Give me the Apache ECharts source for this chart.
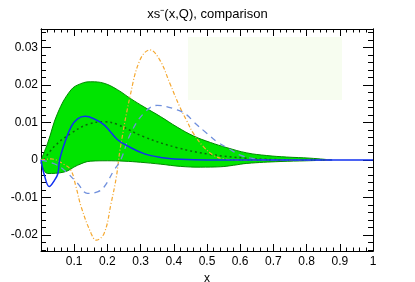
<!DOCTYPE html>
<html><head><meta charset="utf-8">
<script src="https://cdn.jsdelivr.net/npm/echarts@6/dist/echarts.min.js"></script>
<style>html,body{margin:0;padding:0;background:#fff}#c{width:415px;height:282px}</style>
</head><body><div id="c"></div>
<script>
const titleText = 'xs\u207B(x,Q), comparison';
const xAxisName = 'x';
const yMajorTicks = [-0.02, -0.01, 0, 0.01, 0.02, 0.03];
const yMinorTicks = [-0.024,-0.022,-0.018,-0.016,-0.014,-0.012,-0.008,-0.006,-0.004,-0.002,
  0.002,0.004,0.006,0.008,0.012,0.014,0.016,0.018,0.022,0.024,0.026,0.028,0.032,0.034];

const upperX = [0, 0.02, 0.05, 0.09, 0.12, 0.15, 0.19, 0.23, 0.27, 0.31, 0.36, 0.41, 0.46, 0.51, 0.56, 0.62, 0.68, 0.74, 0.81, 0.876];
const upperY = [0, 0.0045, 0.0125, 0.0187, 0.0204, 0.0209, 0.0205, 0.0188, 0.0164, 0.0142, 0.0116, 0.0088, 0.0064, 0.0047, 0.0033, 0.0019, 0.0012, 0.0008, 0.0005, 0.0];
const lowerX = [0, 0.02, 0.07, 0.11, 0.15, 0.2, 0.25, 0.3, 0.36, 0.42, 0.48, 0.54, 0.58, 0.62, 0.72, 0.8, 0.876];
const lowerY = [-0.0005, -0.0036, -0.0032, -0.0014, -0.0003, -0.0002, -0.0003, -0.0006, -0.0011, -0.0017, -0.0019, -0.0018, -0.0014, -0.0009, -0.0004, -0.0002, 0];
const centralX = [0, 0.04, 0.09, 0.14, 0.19, 0.23, 0.31, 0.41, 0.51, 0.62, 0.72, 0.876];
const centralY = [-0.001, 0.0036, 0.0071, 0.0095, 0.0102, 0.0095, 0.0062, 0.0033, 0.0015, 0.0005, 0.0001, 0];
const blueX = [0, 0.01, 0.025, 0.04, 0.051, 0.056, 0.071, 0.091, 0.11, 0.133, 0.16, 0.19, 0.23, 0.26, 0.31, 0.36, 0.42, 0.5, 1.0];
const blueY = [0, -0.004, -0.0071, -0.0055, -0.0036, 0, 0.0045, 0.0089, 0.011, 0.0117, 0.011, 0.0094, 0.0055, 0.0038, 0.0017, 0.0007, 0.0002, 0, 0];
const dashX = [0, 0.04, 0.07, 0.11, 0.14, 0.17, 0.19, 0.22, 0.24, 0.27, 0.31, 0.35, 0.41, 0.44, 0.46, 0.5, 0.53, 0.57, 0.6, 0.64, 0.7, 0.88];
const dashY = [0, -0.001, -0.0027, -0.0062, -0.0089, -0.0085, -0.0072, -0.0027, 0, 0.0071, 0.0125, 0.0146, 0.0134, 0.012, 0.0102, 0.0071, 0.0049, 0.0028, 0.0013, 0.0004, 0, 0];
const orangeX = [0, 0.03, 0.07, 0.09, 0.105, 0.121, 0.151, 0.166, 0.19, 0.211, 0.227, 0.238, 0.268, 0.298, 0.328, 0.358, 0.388, 0.419, 0.439, 0.459, 0.489, 0.519, 0.55, 0.6, 0.88];
const orangeY = [0, 0.0003, -0.0012, -0.0027, -0.007, -0.0125, -0.0196, -0.0214, -0.0196, -0.0116, -0.0045, 0.0027, 0.0169, 0.0267, 0.0294, 0.0267, 0.0205, 0.014, 0.0105, 0.0071, 0.0036, 0.0013, 0.0003, 0, 0];

const zip = (xs, ys) => xs.map((x, i) => [x, ys[i]]);
const font = 'Liberation Sans';
const chart = echarts.init(document.getElementById('c'), null, {renderer: 'canvas'});
const yMin = -0.0243, yMax = 0.035;
function xAx(pos, labels) {
  return {
    type: 'value', position: pos, min: 0, max: 1, interval: 0.1,
    axisLine: {show: true, onZero: false, lineStyle: {color: '#000', width: 1}},
    axisTick: {show: true, inside: true, length: 7, lineStyle: {color: '#000'}},
    minorTick: {show: true, splitNumber: 5, length: 3.5, lineStyle: {color: '#000'}},
    splitLine: {show: false},
    axisLabel: labels ? {show: true, margin: 5, fontSize: 12, fontFamily: font, color: '#000',
      showMinLabel: true, showMaxLabel: true,
      formatter: v => v === 0 ? '' : String(Math.round(v * 10) / 10)} : {show: false},
    name: labels ? xAxisName : '', nameLocation: 'middle', nameGap: 20,
    nameTextStyle: {fontSize: 12, fontFamily: font, color: '#000'}
  };
}
function yAx(pos, ticks, len, labels) {
  return {
    type: 'value', position: pos, min: yMin, max: yMax,
    axisLine: {show: true, onZero: false, lineStyle: {color: '#000', width: 1}},
    axisTick: {show: true, inside: true, length: len, customValues: ticks, lineStyle: {color: '#000'}},
    splitLine: {show: false},
    axisLabel: labels ? {show: true, margin: 3, fontSize: 12, fontFamily: font, color: '#000',
      customValues: yMajorTicks,
      formatter: v => String(Math.round(v * 100) / 100)} : {show: false}
  };
}
const band = {color: '#00e400'};
chart.setOption({
  animation: false,
  backgroundColor: '#fff',
  title: {text: titleText, left: 'center', top: 3,
    textStyle: {fontSize: 13, fontWeight: 'normal', fontFamily: font, color: '#000'}},
  grid: {left: 41, right: 42, top: 29, bottom: 31, containLabel: false, outerBoundsMode: 'none'},
  xAxis: [xAx('bottom', true), xAx('top', false)],
  yAxis: [yAx('left', yMajorTicks, 10, true), yAx('left', yMinorTicks, 5, false),
          yAx('right', yMajorTicks, 10, false), yAx('right', yMinorTicks, 5, false)],
  graphic: [{type: 'rect', shape: {x: 188, y: 37, width: 154, height: 63},
    style: {fill: '#f7fdf0'}, z: 0}],
  series: [
    {type: 'line', data: zip(upperX, upperY), smooth: 0.4, symbol: 'none', z: 2,
      lineStyle: {color: '#008a00', width: 1}, areaStyle: {color: band.color, opacity: 1}},
    {type: 'line', data: zip(lowerX, lowerY), smooth: 0.4, symbol: 'none', z: 2,
      lineStyle: {color: '#008a00', width: 1}, areaStyle: {color: band.color, opacity: 1}},
    {type: 'line', data: zip(centralX, centralY), smooth: 0.4, symbol: 'none', z: 3,
      lineStyle: {color: '#0a6a0a', width: 1.5, type: [2, 3]}},
    {type: 'line', data: zip(orangeX, orangeY), smooth: 0.4, symbol: 'none', z: 4,
      lineStyle: {color: '#f5a830', width: 1.2, type: [4, 2, 1, 2]}},
    {type: 'line', data: zip(dashX, dashY), smooth: 0.4, symbol: 'none', z: 4,
      lineStyle: {color: '#7090dd', width: 1.3, type: [6, 5]}},
    {type: 'line', data: zip(blueX, blueY), smooth: 0.4, symbol: 'none', z: 5,
      lineStyle: {color: '#1030f0', width: 1.5}}
  ]
});
</script></body></html>
